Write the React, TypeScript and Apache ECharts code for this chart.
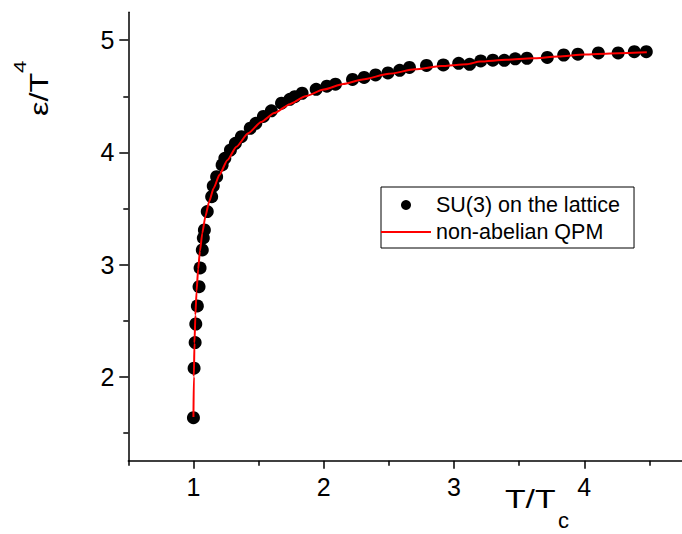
import { useEffect, useRef } from 'react';
import * as echarts from 'echarts';

// Lattice SU(3) data (T/Tc, epsilon/T^4)
const latticeT = [1.000, 1.005, 1.013, 1.018, 1.030, 1.043, 1.051, 1.068, 1.076, 1.084, 1.106, 1.140, 1.152, 1.178, 1.220, 1.241, 1.284, 1.322, 1.368, 1.436, 1.479, 1.537, 1.598, 1.676, 1.740, 1.778, 1.834, 1.942, 2.024, 2.090, 2.221, 2.310, 2.398, 2.493, 2.583, 2.658, 2.789, 2.918, 3.036, 3.120, 3.205, 3.298, 3.386, 3.470, 3.560, 3.716, 3.842, 3.951, 4.108, 4.260, 4.384, 4.476];
const latticeE = [1.635, 2.076, 2.304, 2.470, 2.631, 2.803, 2.970, 3.130, 3.237, 3.308, 3.472, 3.605, 3.700, 3.783, 3.888, 3.947, 4.021, 4.081, 4.140, 4.215, 4.259, 4.320, 4.370, 4.438, 4.473, 4.496, 4.527, 4.562, 4.590, 4.608, 4.650, 4.668, 4.690, 4.708, 4.731, 4.757, 4.775, 4.779, 4.794, 4.785, 4.815, 4.822, 4.821, 4.834, 4.839, 4.846, 4.868, 4.875, 4.886, 4.886, 4.898, 4.898];

// Non-abelian QPM curve
const qpmT = [1.000, 1.003, 1.008, 1.015, 1.024, 1.036, 1.050, 1.068, 1.092, 1.120, 1.155, 1.200, 1.260, 1.330, 1.420, 1.520, 1.620, 1.740, 1.860, 2.000, 2.150, 2.300, 2.500, 2.700, 2.900, 3.100, 3.200, 3.400, 3.600, 3.800, 4.000, 4.200, 4.480];
const qpmE = [1.640, 2.000, 2.300, 2.550, 2.760, 2.960, 3.120, 3.280, 3.430, 3.560, 3.680, 3.800, 3.930, 4.050, 4.170, 4.270, 4.350, 4.430, 4.500, 4.560, 4.610, 4.650, 4.700, 4.740, 4.770, 4.785, 4.810, 4.825, 4.838, 4.855, 4.872, 4.882, 4.892];

const seriesNames = ['SU(3) on the lattice', 'non-abelian QPM'];

const xLabelValues = [1, 2, 3, 4];
const xMinorTickValues = [0.5, 1.5, 2.5, 3.5, 4.5];
const yLabelValues = [2, 3, 4, 5];
const yMinorTickValues = [1.5, 2.5, 3.5, 4.5];

const FONT = '"Liberation Sans", Arial, sans-serif';

export default function App() {
  const ref = useRef<HTMLDivElement>(null);
  useEffect(() => {
    const chart = echarts.init(ref.current!, undefined, { renderer: 'svg' });
    const lineStyle = { color: '#000', width: 1.5 };
    const labelStyle = { fontSize: 25, fontFamily: FONT, color: '#000' };
    chart.setOption({
      animation: false,
      backgroundColor: '#fff',
      grid: { left: 128.3, right: -5.8, top: 12.15, bottom: 73.15, containLabel: false },
      xAxis: [
        {
          type: 'value', min: 0.5, max: 4.75, position: 'bottom',
          axisLine: { show: true, onZero: false, lineStyle },
          axisTick: { show: true, length: 8, customValues: xLabelValues, lineStyle },
          axisLabel: { customValues: xLabelValues, margin: 14, ...labelStyle },
          splitLine: { show: false },
        },
        {
          type: 'value', min: 0.5, max: 4.75, position: 'bottom',
          axisLine: { show: false, onZero: false },
          axisTick: { show: true, length: 5, customValues: xMinorTickValues, lineStyle },
          axisLabel: { show: false },
          splitLine: { show: false },
        },
      ],
      yAxis: [
        {
          type: 'value', min: 1.25, max: 5.25, position: 'left',
          axisLine: { show: true, onZero: false, lineStyle },
          axisTick: { show: true, length: 9, customValues: yLabelValues, lineStyle },
          axisLabel: { customValues: yLabelValues, margin: 14, ...labelStyle },
          splitLine: { show: false },
        },
        {
          type: 'value', min: 1.25, max: 5.25, position: 'left',
          axisLine: { show: false, onZero: false },
          axisTick: { show: true, length: 5, customValues: yMinorTickValues, lineStyle },
          axisLabel: { show: false },
          splitLine: { show: false },
        },
      ],
      legend: {
        left: 381, top: 187, orient: 'vertical',
        padding: [7, 14, 5, 0], itemGap: 5, itemWidth: 50, itemHeight: 10,
        borderColor: '#000', borderWidth: 1, backgroundColor: '#fff',
        textStyle: { fontSize: 21.5, fontFamily: FONT, color: '#000' },
        data: [
          { name: seriesNames[0], icon: 'circle' },
          { name: seriesNames[1], icon: 'path://M0,0H50V2H0Z' },
        ],
      },
      series: [
        {
          name: seriesNames[0], type: 'scatter', xAxisIndex: 0, yAxisIndex: 0,
          data: latticeT.map((t, i) => [t, latticeE[i]]),
          symbol: 'circle', symbolSize: 13, itemStyle: { color: '#000', opacity: 1 },
        },
        {
          name: seriesNames[1], type: 'line', xAxisIndex: 0, yAxisIndex: 0,
          data: qpmT.map((t, i) => [t, qpmE[i]]),
          symbol: 'none', showSymbol: false, smooth: 0.2, smoothMonotone: 'x',
          lineStyle: { color: '#ff0000', width: 2 }, itemStyle: { color: '#ff0000' },
        },
      ],
      graphic: [
        {
          type: 'text', x: 505, y: 499.5, scaleX: 1.35,
          style: { text: 'T/T', fontSize: 25, fontFamily: FONT, fill: '#000', align: 'left', verticalAlign: 'middle' },
        },
        {
          type: 'text', x: 558, y: 520,
          style: { text: 'c', fontSize: 22, fontFamily: FONT, fill: '#000', align: 'left', verticalAlign: 'middle' },
        },
        {
          type: 'group', x: 39.3, y: 116, rotation: Math.PI / 2,
          children: [
            {
              type: 'text', x: 0, y: 0, scaleX: 1.3,
              style: { text: 'ε/T', fontSize: 25, fontFamily: FONT, fill: '#000', align: 'left', verticalAlign: 'middle' },
            },
            {
              type: 'text', x: 43, y: -19.7, scaleX: 1.3,
              style: { text: '4', fontSize: 17, fontFamily: FONT, fill: '#000', align: 'left', verticalAlign: 'middle' },
            },
          ],
        },
      ],
    });
    return () => chart.dispose();
  }, []);
  return <div ref={ref} style={{ position: 'fixed', left: 0, top: 0, width: 682, height: 534 }} />;
}
